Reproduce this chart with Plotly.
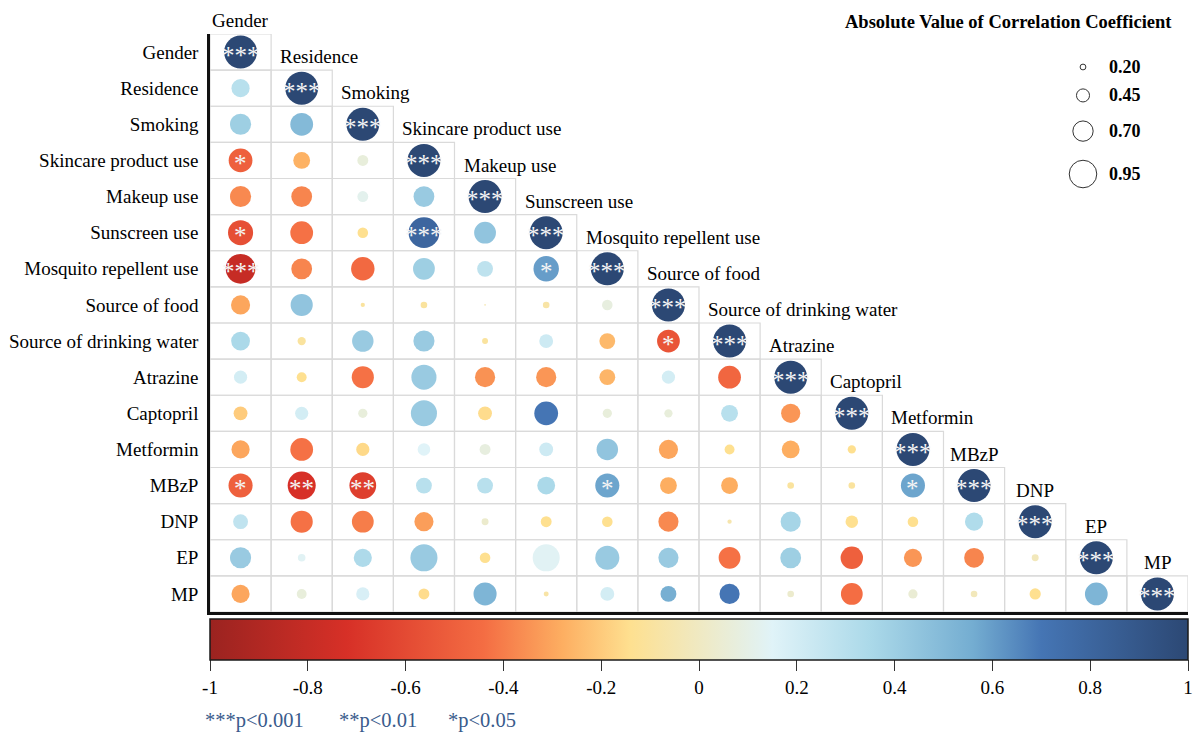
import plotly.graph_objects as go

# ---------------- data ----------------
variables = ["Gender", "Residence", "Smoking", "Skincare product use", "Makeup use",
             "Sunscreen use", "Mosquito repellent use", "Source of food",
             "Source of drinking water", "Atrazine", "Captopril", "Metformin",
             "MBzP", "DNP", "EP", "MP"]

# correlation coefficient (colour), lower triangle, row i has i values (j < i)
corr_lower = [
    [],
    [0.30],
    [0.40, 0.50],
    [-0.50, -0.27, 0.07],
    [-0.37, -0.38, 0.12, 0.42],
    [-0.58, -0.43, -0.14, 0.80, 0.45],
    [-0.80, -0.38, -0.46, 0.40, 0.28, 0.60],
    [-0.30, 0.45, -0.10, -0.10, -0.05, -0.08, 0.08],
    [0.35, -0.10, 0.42, 0.42, -0.10, 0.22, -0.25, -0.55],
    [0.20, -0.14, -0.43, 0.42, -0.35, -0.34, -0.26, 0.20, -0.47],
    [-0.20, 0.20, 0.07, 0.42, -0.15, 0.70, 0.07, 0.07, 0.30, -0.34],
    [-0.30, -0.43, -0.16, 0.15, 0.08, 0.22, 0.45, -0.30, -0.14, -0.28, -0.14],
    [-0.50, -0.72, -0.65, 0.30, 0.30, 0.35, 0.58, -0.28, -0.28, -0.10, -0.10, 0.58],
    [0.27, -0.43, -0.40, -0.32, 0.03, -0.14, -0.14, -0.37, -0.06, 0.37, -0.14, -0.14, 0.33],
    [0.42, 0.14, 0.34, 0.42, -0.14, 0.14, 0.42, 0.42, -0.43, 0.40, -0.50, -0.34, -0.38, -0.02],
    [-0.30, 0.07, 0.18, -0.15, 0.52, -0.08, 0.20, 0.55, 0.70, 0.03, -0.44, 0.05, -0.02, -0.14, 0.52],
]

# absolute value of correlation coefficient (circle size)
abs_lower = [
    [],
    [0.55],
    [0.64, 0.69],
    [0.72, 0.51, 0.33],
    [0.64, 0.63, 0.33, 0.63],
    [0.76, 0.69, 0.32, 0.93, 0.66],
    [0.90, 0.63, 0.71, 0.66, 0.48, 0.77],
    [0.58, 0.67, 0.13, 0.20, 0.05, 0.20, 0.32],
    [0.57, 0.25, 0.65, 0.64, 0.18, 0.42, 0.48, 0.69],
    [0.40, 0.30, 0.67, 0.76, 0.61, 0.61, 0.48, 0.40, 0.69],
    [0.42, 0.40, 0.28, 0.79, 0.42, 0.72, 0.28, 0.25, 0.51, 0.58],
    [0.55, 0.69, 0.40, 0.38, 0.33, 0.42, 0.65, 0.58, 0.30, 0.54, 0.25],
    [0.73, 0.85, 0.81, 0.48, 0.48, 0.54, 0.73, 0.51, 0.51, 0.20, 0.20, 0.73],
    [0.45, 0.67, 0.66, 0.58, 0.21, 0.33, 0.32, 0.61, 0.13, 0.61, 0.38, 0.32, 0.55],
    [0.64, 0.23, 0.55, 0.82, 0.32, 0.82, 0.73, 0.61, 0.66, 0.63, 0.68, 0.55, 0.60, 0.21],
    [0.55, 0.30, 0.40, 0.33, 0.70, 0.15, 0.42, 0.48, 0.61, 0.20, 0.66, 0.28, 0.20, 0.34, 0.69],
]

# significance marks (row, column, stars)
sig_marks = [
    (3, 0, "*"), (5, 0, "*"), (5, 3, "***"), (6, 0, "***"), (6, 5, "*"),
    (8, 7, "*"), (12, 0, "*"), (12, 1, "**"), (12, 2, "**"), (12, 6, "*"),
    (12, 11, "*"),
]

size_legend_values = [0.20, 0.45, 0.70, 0.95]
colorbar_ticks = [-1, -0.8, -0.6, -0.4, -0.2, 0, 0.2, 0.4, 0.6, 0.8, 1]
p_legend_items = ["***p<0.001", "**p<0.01", "*p<0.05"]

# ---------------- styling ----------------
FONT = "Liberation Serif, Times New Roman, serif"
PX_PER_UNIT = 33          # circle diameter for |r| = 1
LEG_PX_PER_UNIT = 29
colorscale = [
    [0.00, "#9b2320"],
    [0.14, "#d73027"],
    [0.28, "#f46d43"],
    [0.36, "#fdae61"],
    [0.43, "#fee090"],
    [0.575, "#e0f3f8"],
    [0.675, "#abd9e9"],
    [0.78, "#74add1"],
    [0.85, "#4575b4"],
    [1.00, "#2c4874"],
]

n = len(variables)
L, R, T, B = 210, 5, 34, 120
W, H = 1193, 732
PW, PH = W - L - R, H - T - B

xs, ys, cs, ss = [], [], [], []
for i in range(n):
    for j in range(i):
        xs.append(j); ys.append(i)
        cs.append(corr_lower[i][j]); ss.append(abs_lower[i][j] * PX_PER_UNIT)
    xs.append(i); ys.append(i); cs.append(1.0); ss.append(1.0 * PX_PER_UNIT)

fig = go.Figure()

# grid cells (staircase)
shapes = []
for i in range(n):
    for j in range(i + 1):
        shapes.append(dict(type="rect", xref="x", yref="y",
                           x0=j - 0.5, x1=j + 0.5, y0=i - 0.5, y1=i + 0.5,
                           line=dict(color="#dadada", width=1.2), layer="below"))

fig.add_trace(go.Scatter(
    x=xs, y=ys, mode="markers", hoverinfo="skip",
    marker=dict(size=ss, sizemode="diameter", color=cs, colorscale=colorscale,
                cmin=-1, cmax=1, line=dict(width=0), opacity=1,
                colorbar=dict(orientation="h", x=0.5, xanchor="center", xref="paper",
                              len=1.0, lenmode="fraction", thickness=41,
                              y=-7.0 / PH, yanchor="top", yref="paper",
                              xpad=0, ypad=0, outlinecolor="#1a1a1a", outlinewidth=1.5,
                              ticks="outside", ticklen=11, tickwidth=1.3, tickcolor="#333",
                              tickvals=colorbar_ticks,
                              ticktext=["%g" % t for t in colorbar_ticks],
                              ticklabeloverflow="allow",
                              tickfont=dict(family=FONT, size=19, color="black"))),
))

annotations = []
# stars: diagonal + significant cells
stars = [(i, i, "***") for i in range(n)] + sig_marks
for (i, j, s) in stars:
    annotations.append(dict(x=j, y=i, xref="x", yref="y", text=s, showarrow=False,
                            font=dict(family=FONT, size=25, color="#f4f4f4"),
                            yshift=-3))

# column labels above diagonal cells
for j, name in enumerate(variables):
    short = len(name) <= 4 or name == "Gender"
    annotations.append(dict(x=j if short else j - 0.5, y=j - 0.5, xref="x", yref="y",
                            text=name, showarrow=False, xanchor="center" if short else "left",
                            yanchor="bottom", xshift=0 if short else 7, yshift=1,
                            font=dict(family=FONT, size=19, color="black")))

# size legend
annotations.append(dict(x=(1174 - L) / PW, y=1 + (T - 22) / PH, xref="paper", yref="paper",
                        text="<b>Absolute Value of Correlation Coefficient</b>",
                        showarrow=False, xanchor="right", yanchor="middle",
                        font=dict(family=FONT, size=18.5, color="black")))
leg_x = (1083 - L) / PW
ypix = 67.0
prev_d = None
for k, v in enumerate(size_legend_values):
    d = v * LEG_PX_PER_UNIT
    if prev_d is not None:
        ypix += (prev_d + d) / 2 + 19
    prev_d = d
    yp = (T + PH - ypix) / PH
    shapes.append(dict(type="circle", xref="paper", yref="paper",
                       xsizemode="pixel", ysizemode="pixel", xanchor=leg_x, yanchor=yp,
                       x0=-d / 2, x1=d / 2, y0=-d / 2, y1=d / 2,
                       line=dict(color="#333", width=1), fillcolor="white"))
    annotations.append(dict(x=leg_x, y=yp, xref="paper", yref="paper",
                            text="<b>%.2f</b>" % v, showarrow=False, xanchor="left",
                            yanchor="middle", xshift=24,
                            font=dict(family=FONT, size=18, color="black")))

# p-value legend
p_x_px = [203, 337, 446]
for txt, px in zip(p_legend_items, p_x_px):
    annotations.append(dict(x=(px - L) / PW, y=(T + PH - 720) / PH, xref="paper", yref="paper",
                            text=txt, showarrow=False, xanchor="left", yanchor="middle",
                            font=dict(family=FONT, size=20.5, color="#3a5b8c")))

fig.update_layout(
    width=W, height=H,
    margin=dict(l=L, r=R, t=T, b=B, autoexpand=False),
    plot_bgcolor="white", paper_bgcolor="white",
    showlegend=False,
    shapes=shapes, annotations=annotations,
    xaxis=dict(range=[-0.5, n - 0.5], showgrid=False, zeroline=False,
               showticklabels=False, showline=True, linecolor="#111", linewidth=2.5,
               ticks="", fixedrange=True),
    yaxis=dict(range=[n - 0.5, -0.5], showgrid=False, zeroline=False,
               tickvals=list(range(n)), ticktext=variables,
               tickfont=dict(family=FONT, size=19, color="black"),
               showline=True, linecolor="#111", linewidth=2.5, ticks="",
               ticklabelstandoff=5, fixedrange=True),
)

fig.write_html("out.html", config={"displayModeBar": False},
               post_script="document.body.style.margin='0';document.body.style.overflow='hidden';")
